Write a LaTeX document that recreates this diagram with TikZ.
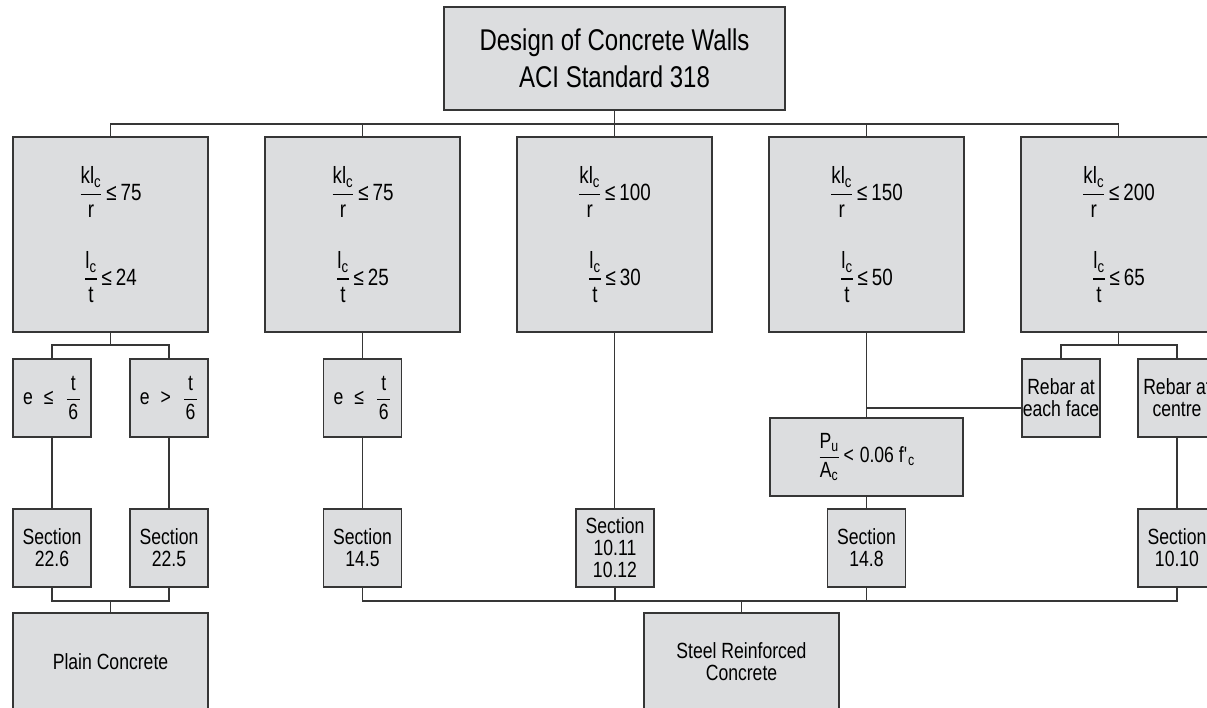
\documentclass[tikz,border=0pt]{standalone}
\usepackage{fontspec}
\usepackage{amsmath}
\setmainfont[FakeStretch=0.8]{Liberation Sans}
\usetikzlibrary{positioning}

\definecolor{boxgray}{HTML}{DCDDDF}
\definecolor{linegray}{HTML}{363636}

\newcommand{\boxfont}{\fontsize{22}{22}\selectfont}
\newcommand{\condfont}{\fontsize{23.5}{23.5}\selectfont}
\newcommand{\titlefont}{\fontsize{30}{37}\selectfont}
\newcommand{\frc}[2]{\ensuremath{\genfrac{}{}{1.2pt}{0}{\text{#1}}{\text{#2}}}}
\newcommand{\ebar}[2]{\ensuremath{\genfrac{}{}{1.2pt}{0}{\text{\hspace{4pt}#1\hspace{4pt}}}{\text{#2}}}}

\begin{document}
\begin{tikzpicture}[
        x=1pt, y=-1pt,
        box/.style={rectangle, draw=linegray, fill=boxgray, line width=1.5pt, inner sep=1pt, outer sep=0pt, align=center, font=\boxfont},
        cond/.style={box, minimum width=195pt, minimum height=195pt, font=\condfont},
        small/.style={box, minimum width=78pt, minimum height=78pt},
        wire/.style={draw=linegray, line width=1.3pt}
    ]

    \useasboundingbox (0,0) rectangle (1207,707);

    % Nodes
    \node (title) [box, minimum width=341pt, minimum height=103pt, font=\titlefont] at (614.5,58.5) {Design of Concrete Walls\\ACI Standard 318};

    \node (c1) [cond] at (110.5,234.5) {\frc{kl\textsubscript{c}}{r}\,≤\,75\\[33pt]\frc{l\textsubscript{c}}{t}\,≤\,24};
    \node (c2) [cond, right=57pt of c1] {\frc{kl\textsubscript{c}}{r}\,≤\,75\\[33pt]\frc{l\textsubscript{c}}{t}\,≤\,25};
    \node (c3) [cond, right=57pt of c2] {\frc{kl\textsubscript{c}}{r}\,≤\,100\\[33pt]\frc{l\textsubscript{c}}{t}\,≤\,30};
    \node (c4) [cond, right=57pt of c3] {\frc{kl\textsubscript{c}}{r}\,≤\,150\\[33pt]\frc{l\textsubscript{c}}{t}\,≤\,50};
    \node (c5) [cond, right=57pt of c4] {\frc{kl\textsubscript{c}}{r}\,≤\,200\\[33pt]\frc{l\textsubscript{c}}{t}\,≤\,65};

    \node (e1) [small] at (52,398) {e\hspace{11pt}≤\hspace{12pt}\ebar{t}{6}};
    \node (e2) [small] at (169,398) {e\hspace{11pt}>\hspace{12pt}\ebar{t}{6}};
    \node (e3) [small] at (362.5,398) {e\hspace{11pt}≤\hspace{12pt}\ebar{t}{6}};
    \node (rebar1) [small] at (1061,398) {Rebar at\\each face};
    \node (rebar2) [small] at (1177,398) {Rebar at\\centre};
    \node (pu) [box, minimum width=193pt, minimum height=78pt] at (866.5,457) {\frc{P\textsubscript{u}}{A\textsubscript{c}}\,<\hspace{6pt}0.06 f\textquotesingle\textsubscript{c}};

    \node (s226) [small, below=72pt of e1] {Section\\22.6};
    \node (s225) [small, below=72pt of e2] {Section\\22.5};
    \node (s145) [small, below=72pt of e3] {Section\\14.5};
    \node (s1011) [small] at (615,548) {Section\\10.11\\10.12};
    \node (s148) [small, below=13pt of pu] {Section\\14.8};
    \node (s1010) [small, below=72pt of rebar2] {Section\\10.10};

    \node (plain) [box, minimum width=195pt, minimum height=98pt] at (110.5,662) {Plain Concrete};
    \node (steel) [box, minimum width=195pt, minimum height=98pt] at (741.5,662) {Steel Reinforced\\Concrete};

    % Connections
    \coordinate (topbus) at (614.5,124);
    \draw [wire] (title.south) -- (topbus);
    \foreach \n in {c1,c2,c3,c4,c5}
        \draw [wire] (topbus) -| (\n.north);

    \draw [wire] (e1.north) -- ++(0,-14) coordinate (split1) -| (e2.north);
    \draw [wire] (c1.south) -- (c1.south |- split1);
    \draw [wire] (e1) -- (s226);
    \draw [wire] (e2) -- (s225);
    \draw [wire] (s226.south) -- ++(0,14) coordinate (join1) -| (s225.south);
    \draw [wire] (join1 -| plain.north) -- (plain.north);

    \draw [wire] (c2) -- (e3);
    \draw [wire] (e3) -- (s145);

    \draw [wire] (c3.south) -- (c3.south |- s1011.north);

    \draw [wire] (c4.south) -- (c4.south |- pu.north);
    \coordinate (tap) at (866.5,408);
    \draw [wire] (tap) -- (tap -| rebar1.west);
    \draw [wire] (pu) -- (s148);

    \draw [wire] (rebar1.north) -- ++(0,-14) coordinate (split5) -| (rebar2.north);
    \draw [wire] (c5.south) -- (c5.south |- split5);
    \draw [wire] (rebar2) -- (s1010);

    \path (steel.north) ++(0,-12) coordinate (bus2);
    \draw [wire] (bus2) -- (steel.north);
    \foreach \n in {s145,s1011,s148,s1010}
        \draw [wire] (\n.south) |- (bus2);

\end{tikzpicture}
\end{document}
